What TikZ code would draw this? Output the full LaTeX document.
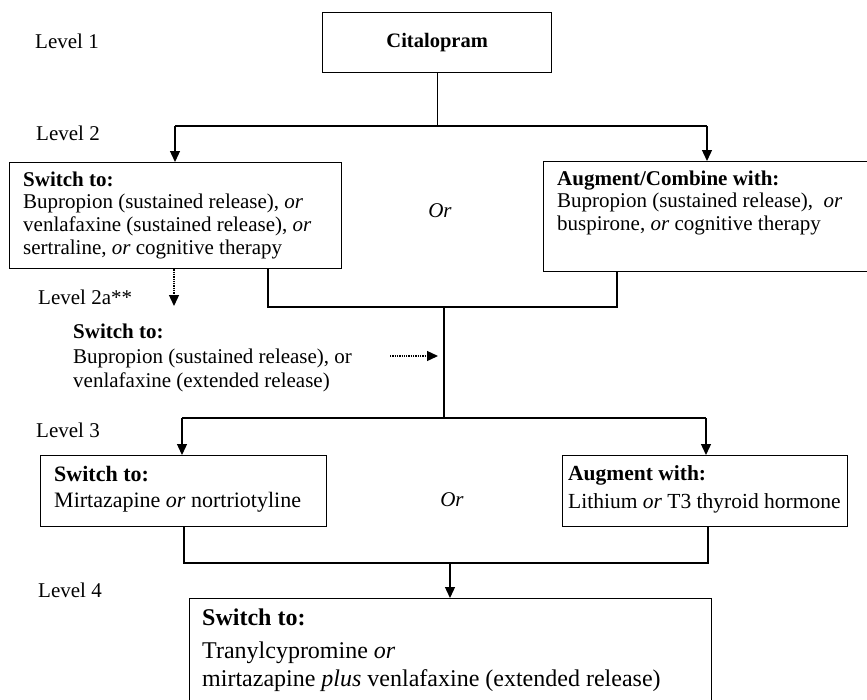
\documentclass[tikz,border=0pt]{standalone}
\usepackage{fontspec}
\setmainfont{Liberation Serif}
\usetikzlibrary{arrows.meta}
\begin{document}
\begin{tikzpicture}[x=1pt,y=-1pt,
  box/.style={draw, line width=1.3pt, anchor=north west, inner sep=0pt},
  txt/.style={anchor=base west, inner sep=0pt, font=\fontsize{21}{23}\selectfont},
  txtb/.style={txt, font=\bfseries\fontsize{21}{23}\selectfont},
  big/.style={anchor=base west, inner sep=0pt, font=\fontsize{22}{24}\selectfont},
  bigb/.style={big, font=\bfseries\fontsize{22}{24}\selectfont},
  huge/.style={anchor=base west, inner sep=0pt, font=\fontsize{24}{26}\selectfont},
  hugeb/.style={huge, font=\bfseries\fontsize{24}{26}\selectfont},
  ortxt/.style={inner sep=0pt, font=\itshape\fontsize{21}{23}\selectfont},
  ln/.style={line width=1.3pt},
  arr/.style={line width=1.3pt, -{Triangle[length=11pt,width=10pt]}},
  dotarr/.style={line width=1.3pt, densely dotted, -{Triangle[length=11pt,width=10pt]}}
]
\useasboundingbox (0,0) rectangle (867,699);
\clip (0,0) rectangle (867,699);

% level labels
\node[txt] (lv1) at (35,48) {Level 1};
\node[txt] (lv2) at (36,140) {Level 2};
\node[txt] (lv2a) at (38,304) {Level 2a**};
\node[txt] (lv3) at (36,437) {Level 3};
\node[txt] (lv4) at (38,597) {Level 4};

% level 1
\node[box, minimum width=229, minimum height=60,
      font=\bfseries\fontsize{20.5}{24}\selectfont] (cit) at (322,12) {Citalopram};

% level 2 boxes
\node[box, minimum width=332, minimum height=106] (l2s) at (9,162) {};
\node[txtb] (l2s1) at (23,186) {Switch to:};
\node[txt] (l2s2) at (23,208) {Bupropion (sustained release), \emph{or}};
\node[txt] (l2s3) at (23,231) {venlafaxine (sustained release), \emph{or}};
\node[txt] (l2s4) at (23,254) {sertraline, \emph{or} cognitive therapy};

\node[box, minimum width=330, minimum height=110] (l2c) at (543,161) {};
\node[txtb] (l2c1) at (557,185) {Augment/Combine with:};
\node[txt] (l2c2) at (557,207) {Bupropion (sustained release),\ \ \emph{or}};
\node[txt] (l2c3) at (557,230) {buspirone, \emph{or} cognitive therapy};

\node[ortxt] (or2) at (440,211) {Or};

% level 2a
\node[txtb] (l2a1) at (73,338) {Switch to:};
\node[txt] (l2a2) at (73,363) {Bupropion (sustained release), or};
\node[txt] (l2a3) at (73,387) {venlafaxine (extended release)};

% level 3 boxes
\node[box, minimum width=286, minimum height=71] (l3s) at (40,455) {};
\node[bigb] (l3s1) at (54,481) {Switch to:};
\node[big] (l3s2) at (54,507) {Mirtazapine \emph{or} nortriotyline};

\node[box, minimum width=285, minimum height=71] (l3a) at (562,455) {};
\node[bigb, font=\bfseries\fontsize{21.5}{24}\selectfont] (l3a1) at (568,480) {Augment with:};
\node[big, font=\fontsize{21.5}{24}\selectfont] (l3a2) at (568,508) {Lithium \emph{or} T3 thyroid hormone};

\node[ortxt] (or3) at (452,500) {Or};

% level 4 box
\node[box, minimum width=522, minimum height=125] (l4) at (189,598) {};
\node[hugeb] (l41) at (202,625) {Switch to:};
\node[huge] (l42) at (202,658) {Tranylcypromine \emph{or}};
\node[huge] (l43) at (202,686) {mirtazapine \emph{plus} venlafaxine (extended release)};

% connectors level 1 -> 2
\coordinate (j1L) at (175,126);
\coordinate (j1R) at (707,126);
\draw[ln] (cit.south) -- (cit.south |- j1L);
\draw[ln] (j1L) -- (j1R);
\draw[arr] (j1L) -- (j1L |- l2s.north);
\draw[arr] (j1R) -- (j1R |- l2c.north);

% level 2 -> 3
\coordinate (p1) at (268,307);
\coordinate (p2) at (617,307);
\coordinate (pc) at (444,307);
\coordinate (j3L) at (182,418);
\coordinate (j3R) at (706,418);
\draw[ln] (p1 |- l2s.south) -- (p1) -- (p2) -- (p2 |- l2c.south);
\draw[ln] (pc) -- (pc |- j3L);
\draw[ln] (j3L) -- (j3R);
\draw[arr] (j3L) -- (j3L |- l3s.north);
\draw[arr] (j3R) -- (j3R |- l3a.north);

% dotted arrows (level 2a)
\coordinate (d1) at (174,306);
\draw[dotarr] (d1 |- l2s.south) -- (d1);
\coordinate (d2s) at (390,356);
\coordinate (d2e) at (438,356);
\draw[dotarr] (d2s) -- (d2e);

% level 3 -> 4
\coordinate (q1) at (184,563);
\coordinate (q2) at (708,563);
\coordinate (qc) at (450,563);
\draw[ln] (q1 |- l3s.south) -- (q1) -- (q2) -- (q2 |- l3a.south);
\draw[arr] (qc) -- (qc |- l4.north);
\end{tikzpicture}
\end{document}
